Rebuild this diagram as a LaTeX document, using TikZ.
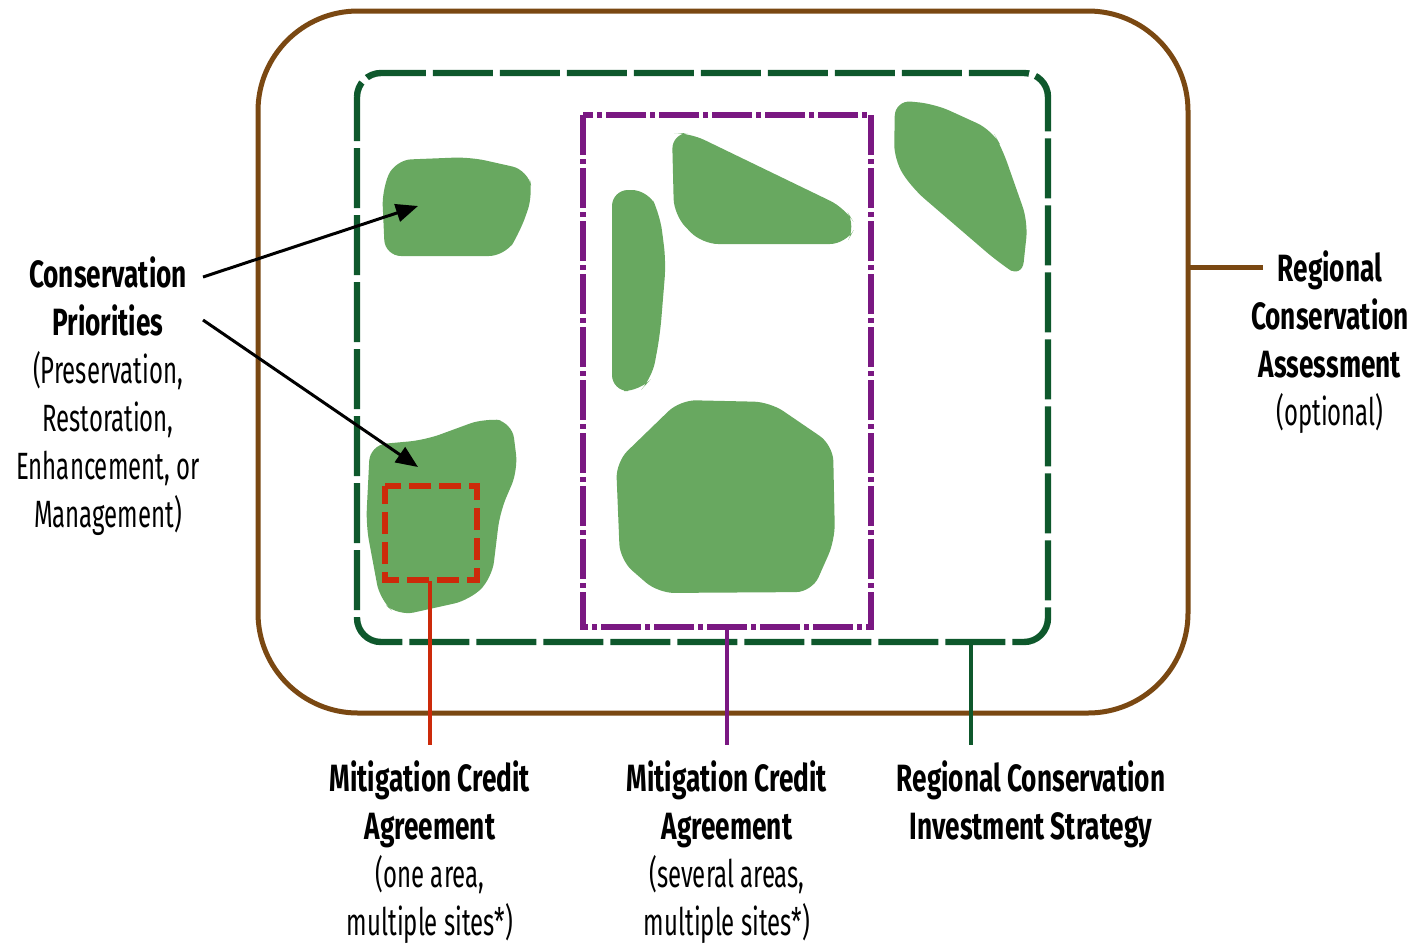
\documentclass[tikz,border=0pt]{standalone}
\usepackage{fontspec}
\setmainfont{Fira Sans}[FakeStretch=0.63, BoldFeatures={FakeStretch=0.69}]
\usetikzlibrary{arrows.meta}
\definecolor{brownline}{RGB}{122,72,18}
\definecolor{dkgreen}{RGB}{14,88,44}
\definecolor{purp}{RGB}{122,24,130}
\definecolor{redl}{RGB}{204,42,10}
\definecolor{blob}{RGB}{104,168,96}
\tikzset{
  lbl/.style={align=center, font=\fontsize{19}{24}\selectfont, inner sep=0pt},
  blobfill/.style={fill=blob, draw=none, rounded corners=8pt},
  arr/.style={line width=1.5pt, -{Triangle[length=11pt,width=9pt]}},
}
\begin{document}
\begin{tikzpicture}[x=0.5pt,y=-0.5pt]
\useasboundingbox (0,0) rectangle (1412,943);
% outer brown
\draw[brownline, line width=2.5pt, rounded corners=50pt] (258,11) rectangle (1188,713);
% blobs
\fill[blobfill] (395,160) -- (470,157) -- (528,170) -- (533,195) -- (520,232) -- (505,256) -- (385,256) -- (382,190) -- cycle;
\fill[blobfill] (370,445) -- (425,440) -- (485,418) -- (512,422) -- (518,470) -- (500,512) -- (492,578) -- (470,600) -- (398,616) -- (380,600) -- (366,525) -- cycle;
\fill[blobfill] (612,190) -- (648,190) -- (660,215) -- (666,262) -- (660,335) -- (652,378) -- (640,391) -- (612,391) -- cycle;
\fill[blobfill] (672,133) -- (690,133) -- (845,208) -- (856,226) -- (846,244) -- (702,244) -- (674,215) -- cycle;
\fill[blobfill] (895,100) -- (935,104) -- (992,130) -- (1002,148) -- (1028,222) -- (1022,278) -- (998,262) -- (912,188) -- (894,160) -- cycle;
\fill[blobfill] (680,400) -- (770,402) -- (833,445) -- (835,540) -- (812,592) -- (658,593) -- (620,560) -- (616,462) -- cycle;
% dark green dashed RCIS box
\draw[dkgreen, line width=3.2pt, rounded corners=12pt, dash pattern=on 30pt off 3.5pt, dash phase=8pt] (357,73) rectangle (1048,642);
% purple dash-dot box
\draw[purp, line width=3pt, dash pattern=on 20pt off 2pt on 2.5pt off 2pt] (583,115) rectangle (871,627);
% red dashed box
\draw[redl, line width=2.6pt, dash pattern=on 11pt off 4pt, dash phase=2pt] (385,486) rectangle (477,580);
% labels
\node[lbl] (cp) at (108,396) {\textbf{Conservation}\\\textbf{Priorities}\\(Preservation,\\Restoration,\\Enhancement, or\\Management)};
\node[lbl] (rca) at (1330,342) {\textbf{Regional}\\\textbf{Conservation}\\\textbf{Assessment}\\(optional)};
\node[lbl, anchor=north] (mca1) at (430,760) {\textbf{Mitigation Credit}\\\textbf{Agreement}\\(one area,\\multiple sites*)};
\node[lbl, anchor=north] (mca2) at (727,760) {\textbf{Mitigation Credit}\\\textbf{Agreement}\\(several areas,\\multiple sites*)};
\node[lbl, anchor=north] (rcis) at (1031,760) {\textbf{Regional Conservation}\\\textbf{Investment Strategy}};
% connectors
\coordinate (b1) at (418,206);
\coordinate (b2) at (418,467);
\coordinate (a1) at (203,277);
\coordinate (a2) at (203,320);
\draw[arr] (a1) -- (b1);
\draw[arr] (a2) -- (b2);
\coordinate (rb) at (1188,267);
\coordinate (rl) at (1263,267);
\draw[brownline, line width=2.5pt] (rb) -- (rl);
\coordinate (r1) at (430,581);
\draw[redl, line width=1.8pt] (r1) -- (430,745);
\coordinate (p1) at (727,628);
\draw[purp, line width=1.8pt] (p1) -- (727,745);
\coordinate (g1) at (971,642);
\draw[dkgreen, line width=1.8pt] (g1) -- (971,745);
\end{tikzpicture}
\end{document}
